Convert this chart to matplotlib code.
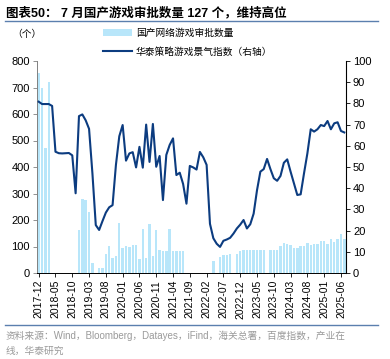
import matplotlib
matplotlib.use("Agg")
import matplotlib.pyplot as plt
import numpy as np
import pandas as pd
from matplotlib.lines import Line2D

plt.rcParams['font.family'] = ['Liberation Sans', 'Noto Sans CJK SC', 'DejaVu Sans']

# monthly, 2017-12 .. 2025-07
months = [str(p) for p in pd.period_range('2017-12', '2025-07', freq='M')]

# 国产网络游戏审批数量 (个)
approvals = [755, 700, 471, 722, 0, 0, 0, 0, 0, 0, 0, 0,
             162, 279, 275, 230, 39, 0, 19, 19, 72, 102, 57, 64,
             189, 94, 102, 98, 106, 106, 52, 166, 55, 186, 64, 161,
             87, 83, 83, 165, 84, 84, 84, 84, 0, 0, 0, 0,
             0, 0, 0, 0, 45, 0, 60, 67, 69, 73, 0, 70,
             84, 87, 86, 86, 86, 86, 88, 88, 0, 88, 86, 86,
             103, 114, 111, 106, 94, 94, 103, 103, 114, 107, 111, 111,
             121, 121, 108, 127, 118, 128, 146, 127]

# 华泰策略游戏景气指数 (右轴)
index_vals = [80.8, 79.7, 79.7, 79.7, 78.8, 57.2, 56.5, 56.4, 56.5, 56.6, 55.5, 37.6,
              74.0, 74.8, 72.0, 68.0, 47.0, 22.6, 20.3, 24.5, 28.5, 31.0, 32.0, 51.0,
              64.5, 69.8, 53.0, 56.4, 57.0, 49.8, 59.5, 49.7, 70.0, 52.4, 70.3, 50.1,
              55.2, 34.4, 55.7, 60.4, 63.5, 46.2, 47.3, 42.0, 32.7, 50.5, 49.8, 48.8,
              57.1, 54.6, 51.0, 23.2, 16.4, 13.8, 12.3, 15.2, 15.8, 16.6, 18.6, 21.0,
              22.8, 25.0, 21.0, 23.0, 28.0, 39.0, 47.8, 49.0, 53.8, 49.0, 44.7, 43.5,
              45.8, 52.0, 53.6, 47.8, 42.3, 36.8, 37.1, 47.0, 56.4, 67.8, 66.7, 67.8,
              69.8, 69.3, 71.7, 67.8, 70.6, 71.1, 67.0, 66.3]

bar_label = '国产网络游戏审批数量'
line_label = '华泰策略游戏景气指数（右轴）'
title = '图表50： 7 月国产游戏审批数量 127 个，维持高位'
source = '资料来源：Wind，Bloomberg，Datayes，iFind，海关总署，百度指数，产业在\n线，华泰研究'

W, H = 390, 359
fig = plt.figure(figsize=(W / 100, H / 100), dpi=100)
ax = fig.add_axes([37 / W, 1 - 273 / H, (346 - 37) / W, (273 - 61) / H])
ax2 = ax.twinx()

x = np.arange(len(months))
bars = ax.bar(x, approvals, width=0.72, color='#b8e6fa', zorder=2)
line, = ax2.plot(x, index_vals, color='#0c3c80', lw=1.5, zorder=3)

ax.set_xlim(-0.5, len(months) - 0.5)
ax.set_ylim(0, 800)
ax.set_yticks(range(0, 801, 100))
ax2.set_ylim(0, 100)
ax2.set_yticks(range(0, 101, 10))

ax.set_xticks(x[::5])
ax.set_xticklabels(months[::5], rotation=90, fontsize=7.5)
ax.tick_params(axis='x', length=3, width=0.6, pad=2)
ax.tick_params(axis='y', labelsize=8, length=3, width=0.6, color='#808080', pad=2)
ax2.tick_params(axis='y', labelsize=8, length=3, width=0.6, pad=2)

ax.spines['top'].set_visible(False)
ax2.spines['top'].set_visible(False)
ax.spines['left'].set_color('#808080')
ax2.spines['left'].set_visible(False)
for s in ['bottom', 'left']:
    ax.spines[s].set_linewidth(0.7)
ax2.spines['right'].set_linewidth(0.7)
ax2.spines['bottom'].set_visible(False)

# title and rules
fig.text(6 / W, 1 - 13 / H, title, fontsize=9, fontweight='bold', va='center', ha='left')
fig.add_artist(Line2D([5 / W, 378 / W], [1 - 21 / H, 1 - 21 / H], color='#5b7fae', lw=1.0))
fig.add_artist(Line2D([5 / W, 378 / W], [1 - 325 / H, 1 - 325 / H], color='#5b7fae', lw=1.0))

fig.text(12 / W, 1 - 34 / H, '（个）', fontsize=7, va='center', ha='left')

fig.legend([bars, line], [bar_label, line_label], loc='upper left',
           bbox_to_anchor=(103 / W, 1 - 28 / H), frameon=False, fontsize=7,
           handlelength=3.0, handleheight=0.6, labelspacing=0.9, handletextpad=0.4,
           borderpad=0, borderaxespad=0)

fig.text(6 / W, 1 - 331 / H, source, fontsize=7, color='#9a9a9a', va='top', ha='left',
         linespacing=1.6)

fig.savefig('out.png', dpi=100)
